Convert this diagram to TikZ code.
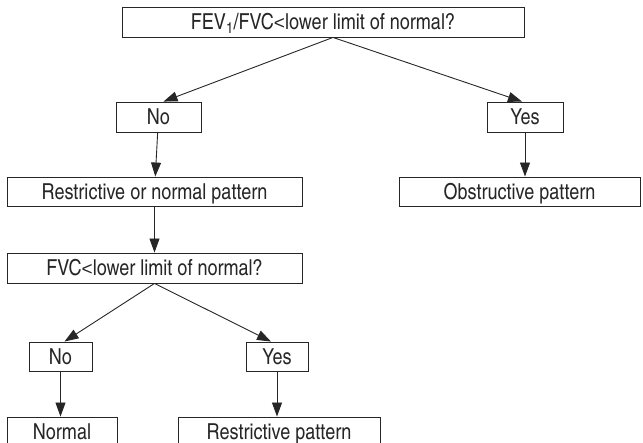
\documentclass[tikz,border=0pt]{standalone}
\usepackage{fontspec}
\setmainfont{TeX Gyre Heros Cn}
\newfontfamily\ltfont{Liberation Sans}
\newcommand{\lessign}{{\ltfont\fontsize{19}{20}\selectfont<}}
\usetikzlibrary{arrows.meta,calc}
\tikzset{
  box/.style={draw=black!85, line width=0.9pt, inner sep=0pt, minimum height=30pt,
    text height=15.5pt, text depth=0pt, font=\fontsize{22}{24}\selectfont, text=black!85},
  conn/.style={draw=black!85, line width=0.9pt, -{Triangle[length=14pt,width=10pt]}}
}
\begin{document}
\begin{tikzpicture}[x=1pt,y=1pt]
\useasboundingbox (0,0) rectangle (643,443);
\clip (0,0) rectangle (643,443);
\node[box, minimum width=402pt] (top) at (323,421) {FEV\textsubscript{1}/FVC\lessign lower limit of normal?};
\node[box, minimum width=85pt] (no1) at (158.5,326) {No};
\node[box, minimum width=76pt] (yes1) at (525,326) {Yes};
\node[box, minimum width=295pt, minimum height=29pt] (rn) at (154.5,251.5) {Restrictive or normal pattern};
\node[box, minimum width=241pt, minimum height=29pt] (ob) at (519.5,251.5) {Obstructive pattern};
\node[box, minimum width=295pt] (fvc) at (154.5,175) {FVC\lessign lower limit of normal?};
\node[box, minimum width=63pt, minimum height=29pt] (no2) at (60.5,86.5) {No};
\node[box, minimum width=62pt, minimum height=29pt] (yes2) at (277,86.5) {Yes};
\node[box, minimum width=110pt] (nor) at (62,11) {Normal};
\node[box, minimum width=202pt] (rp) at (279,11) {Restrictive pattern};
\coordinate (ta) at ($(top.south)+(10,0)$);
\coordinate (fa) at ($(fvc.south)+(0,0)$);
\draw[conn] (ta) -- ($(no1.north)+(5,0)$);
\draw[conn] (ta) -- ($(yes1.north)+(-3,0)$);
\draw[conn] (no1) -- (rn);
\draw[conn] (yes1.south) -- (ob.north -| yes1.south);
\draw[conn] (rn.south) -- (fvc.north -| rn.south);
\draw[conn] (fa) -- ($(no2.north)+(4,0)$);
\draw[conn] (fa) -- ($(yes2.north)+(-6,0)$);
\draw[conn] (no2.south) -- (nor.north -| no2.south);
\draw[conn] (yes2.south) -- (rp.north -| yes2.south);
\end{tikzpicture}
\end{document}
